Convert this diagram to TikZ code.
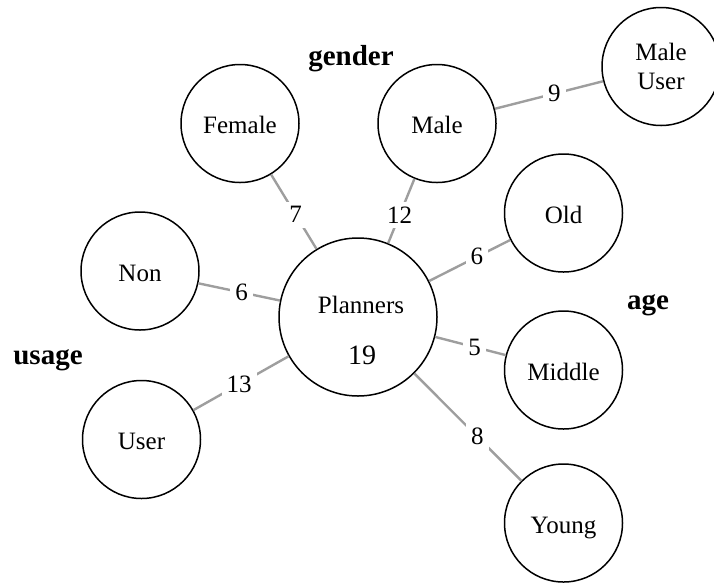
\documentclass[tikz,border=0pt]{standalone}
\usepackage{fontspec}
\setmainfont{Liberation Serif}
\begin{document}
\begin{tikzpicture}[
                x=1pt, y=-1pt,
                ring/.style={circle, draw, line width=1.5pt, minimum size=118pt, inner sep=0pt, font=\fontsize{25}{29}\selectfont},
                attr/.style={ring, text height=20pt, text depth=0pt},
                link/.style={draw=black!38, line width=2.4pt},
                weight/.style={fill=white, inner sep=5pt, font=\fontsize{25}{29}\selectfont},
                group/.style={font=\fontsize{29}{33}\selectfont\bfseries, anchor=base}
                ]
                \useasboundingbox (0,0) rectangle (714,582);
                \clip (0,0) rectangle (714,582);
                % Centre node and its attributes
                \node[ring, minimum size=158pt] (plan) at (358,317) {};
                \node[anchor=base, font=\fontsize{25}{29}\selectfont] (plantitle) at (361,313) {Planners};
                \node[anchor=base, font=\fontsize{28}{32}\selectfont] (plancount) at (362,364) {19};
                \node[attr] (female) at (240,123.5) {Female};
                \node[attr] (male) at (437,123.5) {Male};
                \node[ring, align=center] (maleuser) at (661,66.5) {Male\\User};
                \node[attr] (old) at (563.5,213) {Old};
                \node[attr] (middle) at (563.5,370) {Middle};
                \node[attr] (young) at (563.5,523) {Young};
                \node[attr] (non) at (140,271) {Non};
                \node[attr] (user) at (141.5,439.5) {User};
                \node[group] (gender) at (351,65) {gender};
                \node[group] (age) at (648,309) {age};
                \node[group] (usage) at (48,364) {usage};
                \draw[link] (plan) -- node[weight, pos=.46] {7} (female);
                \draw[link] (plan) -- node[weight, pos=.44] {12} (male);
                \draw[link] (male) -- node[weight, pos=.55] {9} (maleuser);
                \draw[link] (plan) -- node[weight, pos=.59] {6} (old);
                \draw[link] (plan) -- node[weight, pos=.56] {5} (middle);
                \draw[link] (plan) -- node[weight, pos=.59] {8} (young);
                \draw[link] (plan) -- node[weight, pos=.47] {6} (non);
                \draw[link] (plan) -- node[weight, pos=.52] {13} (user);
            \end{tikzpicture}
\end{document}
